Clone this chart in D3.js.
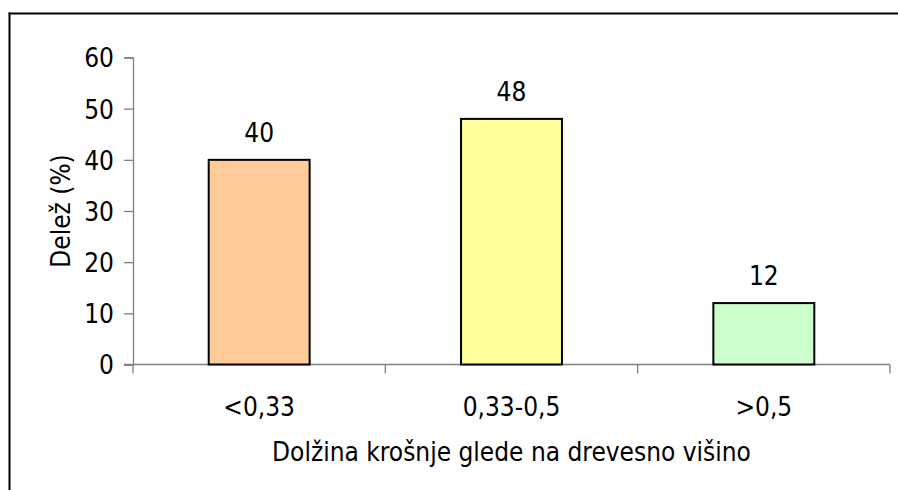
<!DOCTYPE html>
<html>
<head>
<meta charset="utf-8">
<script src="https://cdn.jsdelivr.net/npm/d3@7"></script>
<style>
  html, body { margin: 0; padding: 0; background: #fff; overflow: hidden; }
  svg { display: block; }
  svg text { font-family: "DejaVu Sans Condensed", "DejaVu Sans", sans-serif; font-stretch: condensed; fill: #000; }
</style>
</head>
<body>
<svg id="chart" width="898" height="490"></svg>
<script>
const categories = ["<0,33", "0,33-0,5", ">0,5"];
const values = [40, 48, 12];
const colors = ["#FFCC99", "#FFFF99", "#CCFFCC"];
const yTicks = [0, 10, 20, 30, 40, 50, 60];
const xTitle = "Dolžina krošnje glede na drevesno višino";
const yTitle = "Delež (%)";

const svg = d3.select("#chart");
const W = 898, H = 490;
const plot = { left: 133, right: 890, top: 57.5, bottom: 364.5 };
const fs = 26;

// outer frame (only top and left border visible)
svg.append("line").attr("x1", 8.5).attr("x2", W).attr("y1", 13.5).attr("y2", 13.5)
  .attr("stroke", "#000").attr("stroke-width", 2);
svg.append("line").attr("x1", 9.5).attr("x2", 9.5).attr("y1", 12.5).attr("y2", H)
  .attr("stroke", "#000").attr("stroke-width", 2);

const x = d3.scaleBand().domain(categories).range([plot.left, plot.right]).paddingInner(0.6).paddingOuter(0.3);
const y = d3.scaleLinear().domain([0, 60]).range([plot.bottom, plot.top]);

// Y axis
const yAxis = d3.axisLeft(y).tickValues(yTicks).tickSize(9).tickPadding(10).tickFormat(d3.format("d"));
const gy = svg.append("g").attr("transform", `translate(${plot.left},0)`).call(yAxis);
gy.attr("font-size", null).attr("font-family", null);
gy.select(".domain").attr("stroke", "#808080").attr("stroke-width", 1.3);
gy.selectAll(".tick line").attr("stroke", "#808080").attr("stroke-width", 1.3);
gy.selectAll(".tick text").style("font-size", fs + "px").attr("dy", "0.36em");

// X axis: baseline line with category boundary ticks
const boundaries = [plot.left].concat(categories.map(c => x(c) + x.bandwidth() + x.step() * x.paddingInner() / 2));
svg.append("line")
  .attr("x1", plot.left - 9).attr("x2", plot.right)
  .attr("y1", y(0)).attr("y2", y(0))
  .attr("stroke", "#808080").attr("stroke-width", 1.3);
svg.selectAll(".xtick").data(boundaries).enter().append("line")
  .attr("x1", d => d).attr("x2", d => d)
  .attr("y1", y(0)).attr("y2", y(0) + 9)
  .attr("stroke", "#808080").attr("stroke-width", 1.3);
svg.selectAll(".xlabel").data(categories).enter().append("text")
  .attr("x", d => x(d) + x.bandwidth() / 2)
  .attr("y", 416)
  .attr("text-anchor", "middle")
  .style("font-size", fs + "px")
  .text(d => d);

// bars
svg.selectAll(".bar").data(values).enter().append("rect")
  .attr("x", (d, i) => x(categories[i]))
  .attr("y", d => y(d))
  .attr("width", x.bandwidth())
  .attr("height", d => y(0) - y(d))
  .attr("fill", (d, i) => colors[i])
  .attr("stroke", "#000").attr("stroke-width", 2);

// value labels
svg.selectAll(".val").data(values).enter().append("text")
  .attr("x", (d, i) => x(categories[i]) + x.bandwidth() / 2)
  .attr("y", d => y(d) - 18)
  .attr("text-anchor", "middle")
  .style("font-size", fs + "px")
  .text(d => d);

// axis titles
svg.append("text")
  .attr("x", (plot.left + plot.right) / 2).attr("y", 461)
  .attr("text-anchor", "middle").style("font-size", fs + "px")
  .text(xTitle);
svg.append("text")
  .attr("transform", `translate(70,${(plot.top + plot.bottom) / 2}) rotate(-90)`)
  .attr("text-anchor", "middle").style("font-size", fs + "px")
  .text(yTitle);
</script>
</body>
</html>
